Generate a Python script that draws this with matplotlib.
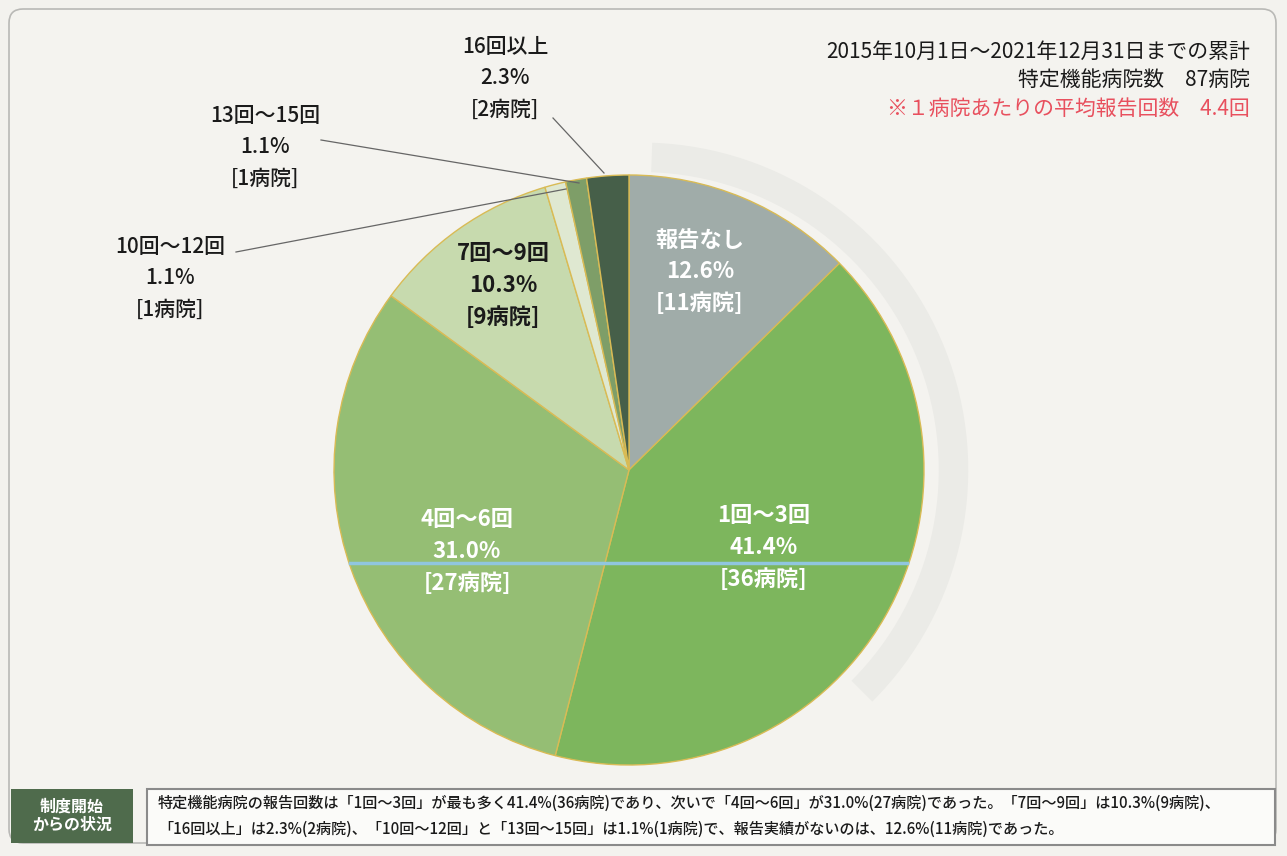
import matplotlib.pyplot as plt
from matplotlib.patches import FancyBboxPatch, Rectangle, Wedge

plt.rcParams['font.family'] = ['Noto Sans CJK JP', 'DejaVu Sans']

# data
categories = ['報告なし', '1回～3回', '4回～6回', '7回～9回', '10回～12回', '13回～15回', '16回以上']
hospitals = [11, 36, 27, 9, 1, 1, 2]
percents = ['12.6%', '41.4%', '31.0%', '10.3%', '1.1%', '1.1%', '2.3%']
colors = ['#a0aca9', '#7db65d', '#95be74', '#c7daae', '#dfe8d1', '#7e9e68', '#465f49']

header = ['2015年10月1日～2021年12月31日までの累計', '特定機能病院数　87病院']
note = '※１病院あたりの平均報告回数　4.4回'
summary = ['特定機能病院の報告回数は「1回～3回」が最も多く41.4%(36病院)であり、次いで「4回～6回」が31.0%(27病院)であった。「7回～9回」は10.3%(9病院)、',
           '「16回以上」は2.3%(2病院)、「10回～12回」と「13回～15回」は1.1%(1病院)で、報告実績がないのは、12.6%(11病院)であった。']
badge = '制度開始\nからの状況'

W, H = 1287, 856
fig = plt.figure(figsize=(W / 100, H / 100), dpi=100)
fig.patch.set_facecolor('#f3f2ee')

# background axes in pixel coordinates
bg = fig.add_axes([0, 0, 1, 1])
bg.set_xlim(0, W)
bg.set_ylim(H, 0)
bg.axis('off')
bg.add_patch(FancyBboxPatch((9, 9), W - 20, H - 22, boxstyle='round,pad=0,rounding_size=14',
                            fc='#f4f3ef', ec='#b9b9b6', lw=1.2))

# pie axes
cx, cy, r = 629, 470, 295
ax = fig.add_axes([(cx - r) / W, (H - cy - r) / H, 2 * r / W, 2 * r / H])
ax.add_patch(Wedge((0.04, 0), 1.11, -45, 88, width=0.1, fc='#ebebe7', ec='none', clip_on=False, zorder=0))
wedges, _ = ax.pie(hospitals, colors=colors, startangle=90, counterclock=False,
                   wedgeprops=dict(edgecolor='#d9bb55', linewidth=1.0))
ax.set_xlim(-1, 1)
ax.set_ylim(-1, 1)
ax.set_aspect('equal')
ax.axis('off')

# foreground axes for text and lines
fg = fig.add_axes([0, 0, 1, 1])
fg.set_xlim(0, W)
fg.set_ylim(H, 0)
fg.axis('off')
fg.patch.set_alpha(0)

# scan line across pie
fg.plot([350, 907], [563, 563], color='#90c6df', lw=2.5)

# labels inside slices (pixel coords, middle line centre)
inside = {0: (700, 272, 'white'), 1: (764, 548, 'white'), 2: (467, 551, 'white'), 3: (503, 285, '#1a1a1a')}
for i, (x, y, c) in inside.items():
    txt = f'{categories[i]}\n{percents[i]}\n[{hospitals[i]}病院]'
    fg.text(x, y, txt, ha='center', va='center', fontsize=16, color=c,
            linespacing=1.5, fontweight='bold')

# outside labels with leader lines
outside = {6: (505, 78, (553, 118), (604, 173)),
           5: (265, 147, (321, 140), (579, 183)),
           4: (170, 278, (236, 252), (566, 189))}
for i, (x, y, p0, p1) in outside.items():
    txt = f'{categories[i]}\n{percents[i]}\n[{hospitals[i]}病院]'
    fg.text(x, y, txt, ha='center', va='center', fontsize=15, color='#1a1a1a', linespacing=1.55,
            fontweight='medium')
    fg.plot([p0[0], p1[0]], [p0[1], p1[1]], color='#666666', lw=0.9)

# header text
fg.text(1250, 52, header[0], ha='right', va='center', fontsize=15, color='#1a1a1a')
fg.text(1250, 80, header[1], ha='right', va='center', fontsize=15, color='#1a1a1a')
fg.text(1250, 109, note, ha='right', va='center', fontsize=15, color='#e8505e')

# bottom box
fg.add_patch(Rectangle((11, 789), 122, 54, fc='#4f6b4c', ec='none'))
fg.text(72, 816, badge, ha='center', va='center', fontsize=11.5, color='white',
        fontweight='bold', linespacing=1.2)
fg.add_patch(Rectangle((147, 789), 1128, 56, fc='#fbfbf9', ec='#8a8a8a', lw=1.5))
fg.text(158, 803, summary[0], ha='left', va='center', fontsize=10.9, color='#1a1a1a',
        fontweight='medium')
fg.text(158, 829, summary[1], ha='left', va='center', fontsize=10.9, color='#1a1a1a',
        fontweight='medium')

fig.savefig('out.png', dpi=100, facecolor=fig.get_facecolor())
